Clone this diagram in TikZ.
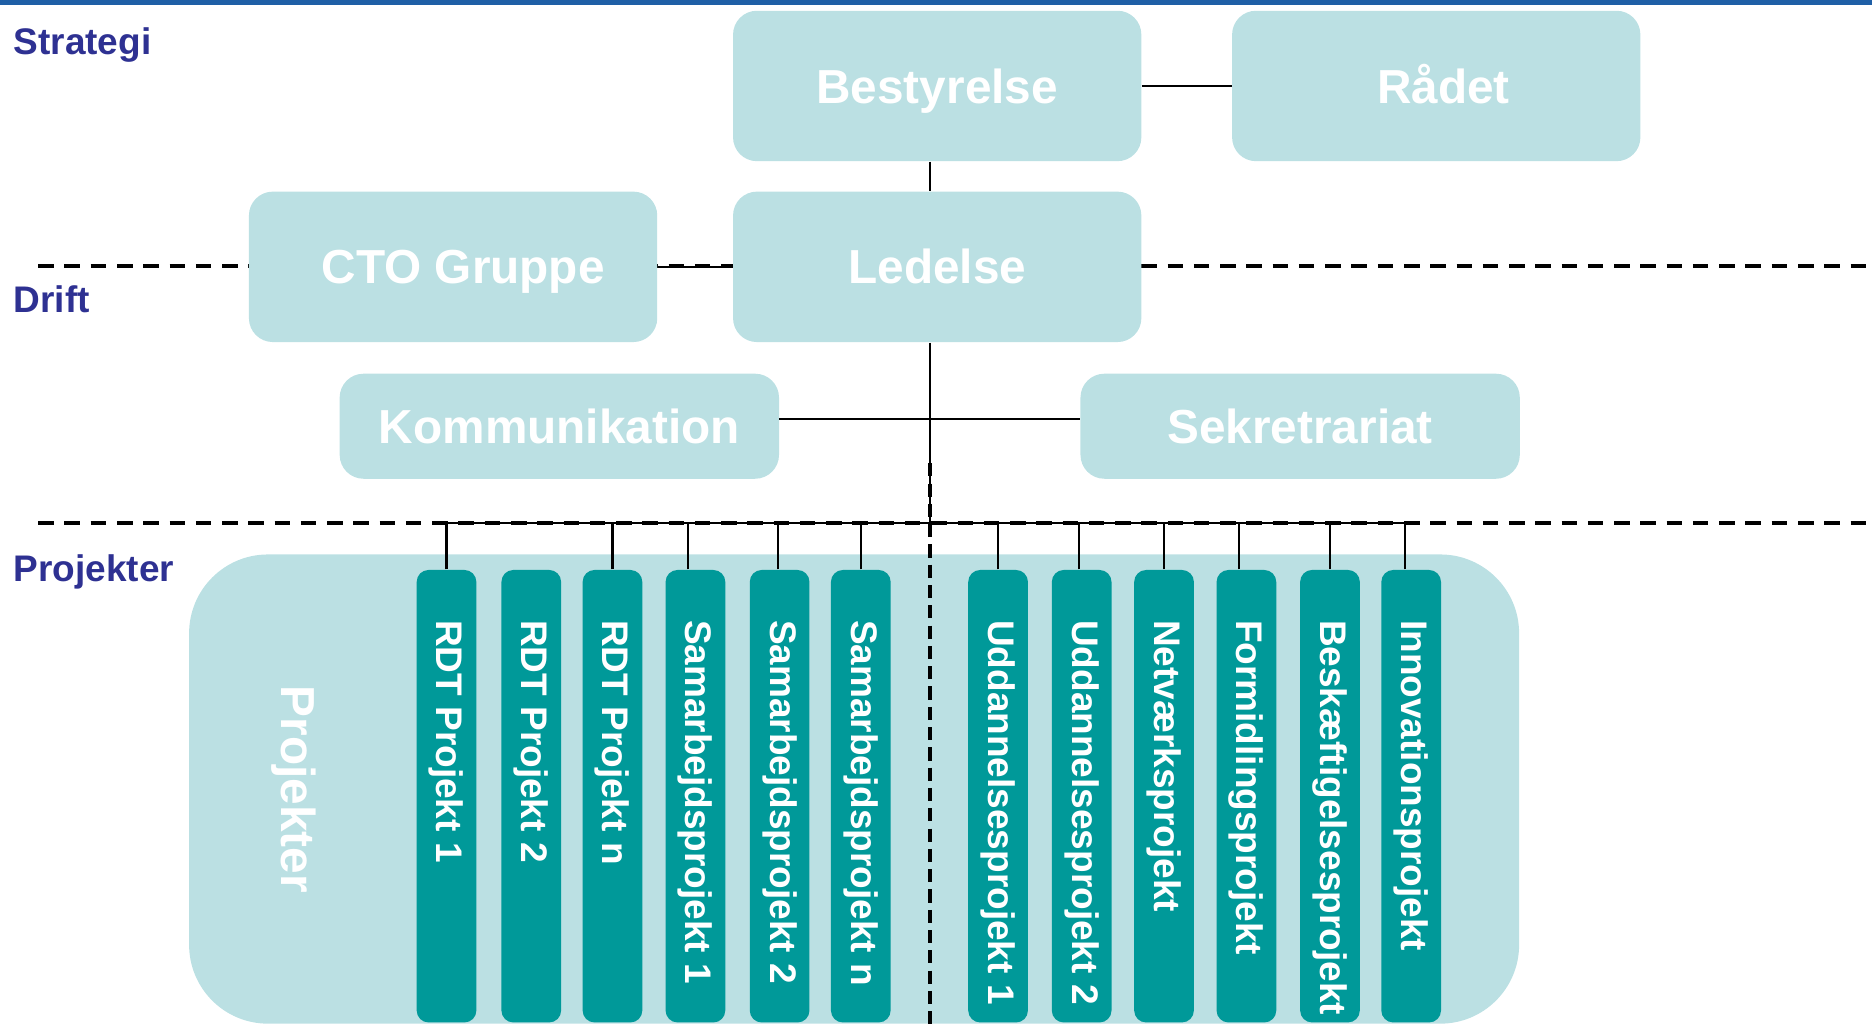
\documentclass[tikz,border=0pt]{standalone}
\usepackage{fontspec}
\setmainfont{Liberation Sans}
\usetikzlibrary{calc}
\definecolor{boxc}{HTML}{BBE0E3}
\definecolor{barc}{HTML}{009999}
\definecolor{labc}{HTML}{2E3192}
\definecolor{topc}{HTML}{1F5FA6}
\begin{document}
\begin{tikzpicture}[x=0.5pt,y=-0.5pt,
  unit/.style={fill=boxc, draw=none, rounded corners=10pt, text=white,
    font=\fontsize{20}{24}\selectfont\bfseries, inner sep=0pt,
    text height=14.3pt, text depth=0pt},
  bigunit/.style={unit, minimum width=171pt, minimum height=63pt},
  smallunit/.style={unit, minimum width=184pt, minimum height=44pt},
  projbar/.style={fill=barc, draw=none, rounded corners=5pt, minimum width=25pt,
    minimum height=189.5pt, inner sep=0pt, anchor=north},
  projtext/.style={rotate=-90, anchor=west, text=white, inner sep=0pt,
    font=\fontsize{15.5}{18}\selectfont\bfseries},
  level/.style={text=labc, font=\fontsize{15.5}{18}\selectfont\bfseries,
    anchor=base west, inner sep=0pt},
  sep/.style={line width=1.7pt, dash pattern=on 6.5pt off 4.5pt},
  vsep/.style={line width=1.3pt, dash pattern=on 5.5pt off 3pt},
  link/.style={line width=0.9pt}
]
\useasboundingbox (0,0) rectangle (1568,858);
\fill[topc] (0,0) rectangle (1568,4);

% level labels
\node[level] (lstrat) at (11,46) {Strategi};
\node[level] (ldrift) at (11,262) {Drift};
\node[level] (lproj) at (11,487) {Projekter};

% separators
\coordinate (s1a) at (32,223);
\coordinate (s1b) at (1568,223);
\coordinate (s2a) at (32,438);
\coordinate (s2b) at (1568,438);
\draw[sep] (s1a) -- (s1b);
\draw[sep] (s2a) -- (s2b);

% boxes
\node[bigunit] (best) at (785,72) {Bestyrelse};
\node[bigunit] (raad) at (1203,72) {\hspace*{6pt}Rådet};
\node[bigunit] (cto) at (379.5,223.5) {\hspace*{8.5pt}CTO Gruppe};
\node[bigunit] (led) at (785,223.5) {Ledelse};
\node[smallunit] (komm) at (468.5,357) {Kommunikation};
\node[smallunit] (sekr) at (1089,357) {Sekretrariat};

\coordinate (spine) at (779,0);
\coordinate (bus) at (0,438);

\draw[link] (best.east) -- (raad.west);
\draw[link] (best.south -| spine) -- (led.north -| spine);
\draw[link] (cto.east) -- (led.west);
\draw[link] (led.south -| spine) -- (spine |- bus);
\draw[link] ([yshift=3pt]komm.east) -- ([yshift=3pt]sekr.west);

% project container
\node[fill=boxc, draw=none, rounded corners=33pt, minimum width=557pt,
  minimum height=196.5pt, inner sep=0pt, anchor=north west] (projbox) at (158,464) {};
\node[rotate=-90, text=white, inner sep=0pt,
  font=\fontsize{20}{24}\selectfont\bfseries] (projlab) at (246,661) {Projekter};

% project bars
\foreach \i/\x/\t in {1/374/RDT Projekt 1, 2/445/RDT Projekt 2, 3/513/RDT Projekt n,
  4/582.5/Samarbejdsprojekt 1, 5/653/Samarbejdsprojekt 2, 6/721/Samarbejdsprojekt n,
  7/836/Uddannelsesprojekt 1, 8/906/Uddannelsesprojekt 2, 9/975/Netværksprojekt,
  10/1044/Formidlingsprojekt, 11/1114/Beskæftigelsesprojekt, 12/1182/Innovationsprojekt}{
  \node[projbar] (b\i) at (\x,477) {};
  \node[projtext] (t\i) at ($(b\i.north)+(0,42)$) {\t};
}

% vertical separator
\coordinate (v1) at (779,388);
\coordinate (v2) at (779,858);
\draw[vsep] (v1) -- (v2);

% drop lines
\foreach \i/\dx in {1/0,3/0,4/-6,5/-1,6/0,7/0,8/-2,9/0,10/-6,11/0,12/-5}{
  \path ($(b\i.north)+(\dx,0)$) coordinate (top\i);
  \draw[link] (top\i) -- (top\i |- bus);
}
\draw[link] (top1 |- bus) -- (top12 |- bus);
\end{tikzpicture}
\end{document}
